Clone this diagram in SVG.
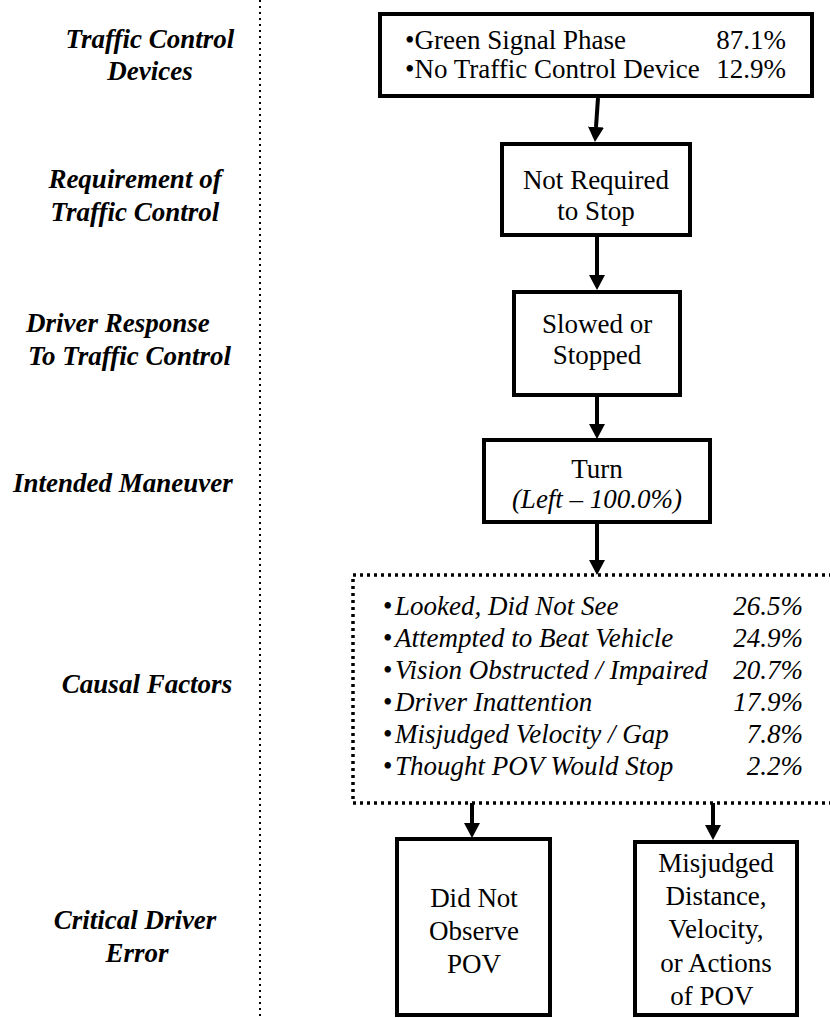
<svg xmlns="http://www.w3.org/2000/svg" width="830" height="1018" viewBox="0 0 830 1018" font-family="Liberation Serif, Times New Roman, Nimbus Roman, FreeSerif, DejaVu Serif, Noto Serif, serif">
<style>
.box{fill:#fff;stroke:#000;stroke-width:4}
.t{font-size:27px;fill:#000}
.c{text-anchor:middle}
.e{text-anchor:end}
.i{font-style:italic}
.lab{font-size:27px;font-weight:bold;font-style:italic;fill:#000}
.conn{stroke:#000;stroke-width:4;fill:none}
</style>
<defs>
<marker id="ah" markerUnits="userSpaceOnUse" viewBox="0 0 15 16" refX="0" refY="8" markerWidth="15" markerHeight="16" orient="auto">
<path d="M0,0 L15,8 L0,16 Z" fill="#000"/>
</marker>
</defs>
<rect width="830" height="1018" fill="#fff"/>
<line x1="260" y1="0" x2="260" y2="1018" stroke="#000" stroke-width="2" stroke-dasharray="2 4"/>
<g id="labels">
<text class="lab c" x="150" y="48">Traffic Control</text>
<text class="lab c" x="150" y="80">Devices</text>
<text class="lab c" x="135" y="188">Requirement of</text>
<text class="lab c" x="135" y="221">Traffic Control</text>
<text class="lab" x="26" y="332">Driver Response</text>
<text class="lab" x="28" y="365">To Traffic Control</text>
<text class="lab" x="13" y="492">Intended Maneuver</text>
<text class="lab c" x="147" y="693">Causal Factors</text>
<text class="lab c" x="135" y="929">Critical Driver</text>
<text class="lab c" x="137" y="962">Error</text>
</g>
<g id="connectors">
<line class="conn" x1="598" y1="98" x2="596" y2="127" marker-end="url(#ah)"/>
<line class="conn" x1="597" y1="237" x2="597" y2="275" marker-end="url(#ah)"/>
<line class="conn" x1="597" y1="397" x2="597" y2="424" marker-end="url(#ah)"/>
<line class="conn" x1="597" y1="524" x2="597" y2="560" marker-end="url(#ah)"/>
<line class="conn" x1="472" y1="803" x2="472" y2="823" marker-end="url(#ah)"/>
<line class="conn" x1="713" y1="803" x2="713" y2="825" marker-end="url(#ah)"/>
</g>
<g id="node-devices">
<rect class="box" x="380" y="14" width="432" height="82"/>
<text class="t" x="405" y="49">•Green Signal Phase</text>
<text class="t e" x="786" y="49">87.1%</text>
<text class="t" x="405" y="78">•No Traffic Control Device</text>
<text class="t e" x="786" y="78">12.9%</text>
</g>
<g id="node-requirement">
<rect class="box" x="502" y="144" width="188" height="91"/>
<text class="t c" x="596" y="189">Not Required</text>
<text class="t c" x="596" y="220">to Stop</text>
</g>
<g id="node-response">
<rect class="box" x="514" y="292" width="166" height="103"/>
<text class="t c" x="597" y="333">Slowed or</text>
<text class="t c" x="597" y="364">Stopped</text>
</g>
<g id="node-maneuver">
<rect class="box" x="484" y="440" width="226" height="82"/>
<text class="t c" x="597" y="478">Turn</text>
<text class="t c i" x="597" y="508">(Left – 100.0%)</text>
</g>
<g id="node-causal">
<rect x="353" y="575" width="500" height="228" fill="none" stroke="#000" stroke-width="3.5" stroke-dasharray="3 4"/>
<text class="t" x="383" y="615">•</text><text class="t i" x="395" y="615">Looked, Did Not See</text><text class="t i e" x="803" y="615">26.5%</text>
<text class="t" x="383" y="647">•</text><text class="t i" x="395" y="647">Attempted to Beat Vehicle</text><text class="t i e" x="803" y="647">24.9%</text>
<text class="t" x="383" y="679">•</text><text class="t i" x="395" y="679">Vision Obstructed / Impaired</text><text class="t i e" x="803" y="679">20.7%</text>
<text class="t" x="383" y="711">•</text><text class="t i" x="395" y="711">Driver Inattention</text><text class="t i e" x="803" y="711">17.9%</text>
<text class="t" x="383" y="743">•</text><text class="t i" x="395" y="743">Misjudged Velocity / Gap</text><text class="t i e" x="803" y="743">7.8%</text>
<text class="t" x="383" y="775">•</text><text class="t i" x="395" y="775">Thought POV Would Stop</text><text class="t i e" x="803" y="775">2.2%</text>
</g>
<g id="node-not-observe">
<rect class="box" x="397" y="839" width="153" height="176"/>
<text class="t c" x="474" y="907">Did Not</text>
<text class="t c" x="474" y="940">Observe</text>
<text class="t c" x="474" y="973">POV</text>
</g>
<g id="node-misjudged">
<rect class="box" x="635" y="842" width="162" height="173"/>
<text class="t c" x="716" y="872">Misjudged</text>
<text class="t c" x="716" y="905">Distance,</text>
<text class="t c" x="716" y="938">Velocity,</text>
<text class="t c" x="716" y="972">or Actions</text>
<text class="t c" x="712" y="1005">of POV</text>
</g>
</svg>
